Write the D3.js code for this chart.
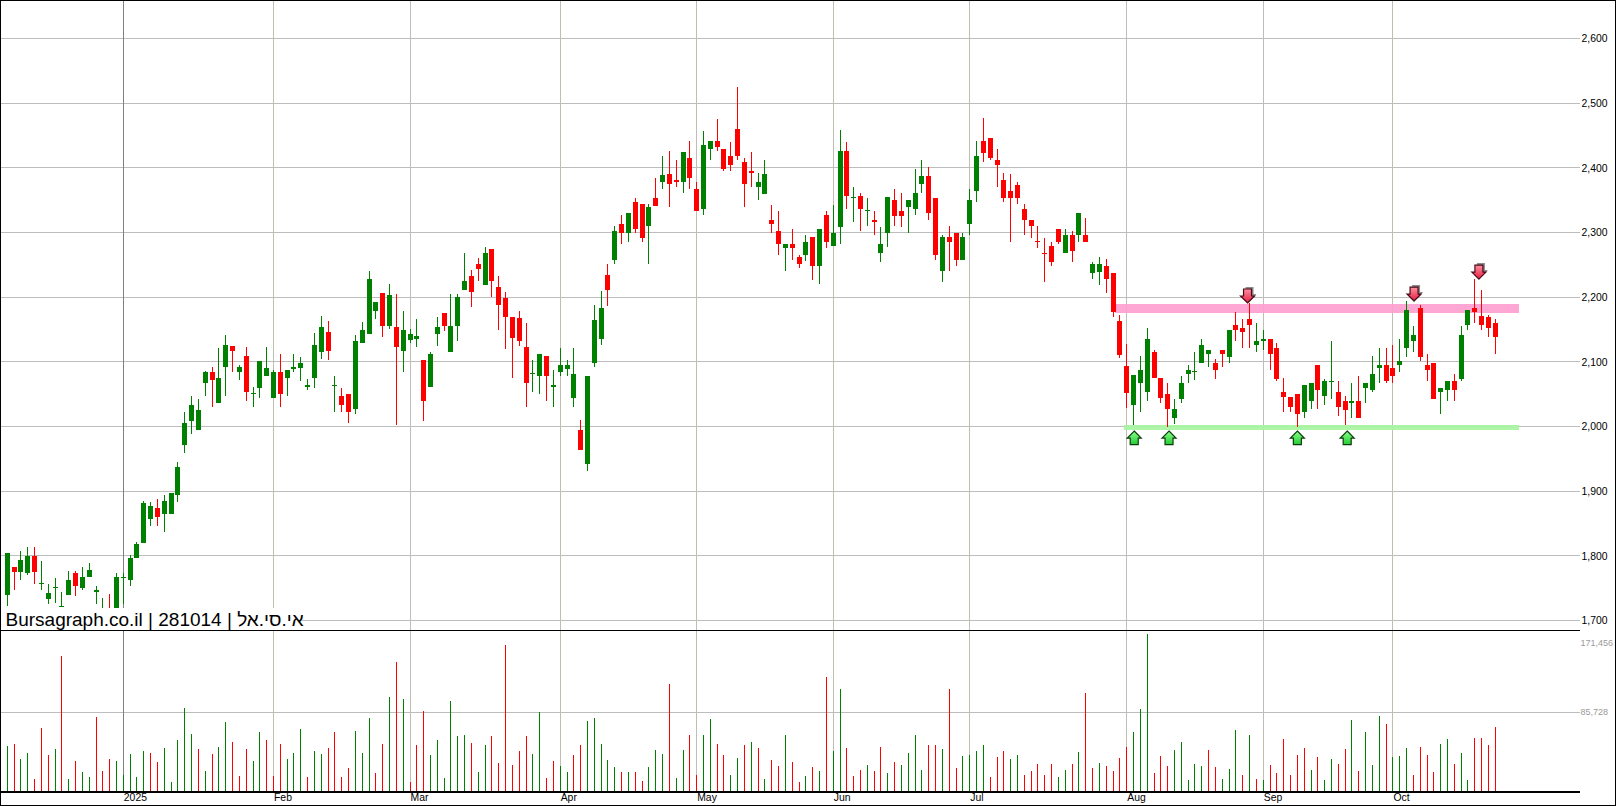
<!DOCTYPE html>
<html>
<head>
<meta charset="utf-8">
<script src="https://d3js.org/d3.v7.min.js"></script>
<style>
  html, body { margin: 0; padding: 0; background: #fff; overflow: hidden; }
  text { font-family: "Liberation Sans", Arial, sans-serif; }
  .crisp { shape-rendering: crispEdges; }
</style>
</head>
<body>
<div id="chart"></div>
<script>
// daily candles
var opens = [
  1738,1782,1775,1772,1799,1756,1733,1750,1721,1739,1773,1750,1767,1743,1706,1716,1712,1765,1762,1796,
  1819,1856,1873,1864,1864,1893,1971,2008,1994,2067,2083,2035,2091,2123,2084,2108,2050,2058,2078,2044,
  2083,2074,2088,2089,2060,2074,2114,2145,2063,2046,2049,2027,2128,2142,2178,2206,2154,2153,2116,2133,
  2134,2102,2060,2142,2175,2114,2154,2210,2232,2251,2218,2274,2215,2198,2168,2167,2122,2081,2078,2109,
  2060,2083,2088,2043,1994,1942,2098,2134,2233,2257,2313,2299,2346,2343,2310,2352,2377,2389,2381,2378,
  2415,2366,2335,2428,2440,2428,2417,2459,2408,2395,2370,2358,2318,2301,2275,2282,2261,2264,2292,2247,
  2327,2278,2307,2426,2353,2355,2333,2319,2268,2299,2349,2332,2338,2335,2374,2386,2353,2240,2292,2299,
  2257,2313,2363,2440,2446,2411,2380,2363,2372,2335,2319,2286,2268,2279,2305,2268,2295,2295,2296,2236,
  2238,2247,2236,2163,2093,2033,2066,2052,2115,2075,2050,2013,2041,2080,2084,2098,2111,2097,2117,2106,
  2156,2152,2165,2125,2131,2135,2120,2052,2045,2049,2021,2039,2094,2047,2069,2052,2039,2035,2038,2059,
  2056,2090,2094,2090,2094,2120,2131,2183,2094,2097,2052,2056,2069,2073,2156,2182,2170,2168,2160
];
var highs = [
  1804,1782,1807,1813,1813,1791,1756,1765,1744,1776,1776,1782,1788,1753,1734,1740,1773,1773,1801,1820,
  1884,1882,1887,1893,1896,1944,2022,2047,2041,2085,2091,2120,2140,2123,2095,2122,2060,2100,2122,2086,
  2112,2086,2112,2106,2072,2144,2170,2162,2077,2058,2050,2140,2161,2240,2192,2206,2220,2204,2178,2150,
  2165,2102,2114,2168,2175,2204,2204,2268,2241,2260,2277,2274,2232,2207,2168,2178,2159,2102,2111,2109,
  2086,2120,2102,2120,2010,2077,2187,2208,2251,2310,2327,2329,2352,2343,2343,2383,2417,2426,2412,2423,
  2440,2378,2456,2440,2474,2429,2439,2524,2415,2423,2391,2412,2341,2333,2282,2304,2264,2295,2292,2305,
  2333,2341,2457,2439,2370,2361,2352,2333,2308,2354,2367,2361,2350,2398,2412,2400,2353,2296,2310,2299,
  2298,2367,2440,2476,2446,2429,2392,2390,2378,2343,2319,2309,2290,2284,2305,2304,2301,2330,2322,2254,
  2262,2259,2236,2171,2127,2079,2108,2151,2118,2075,2067,2042,2077,2095,2114,2135,2117,2104,2117,2148,
  2177,2165,2190,2159,2148,2135,2129,2075,2045,2049,2063,2067,2095,2072,2132,2069,2047,2067,2078,2067,
  2109,2120,2120,2126,2134,2194,2154,2187,2112,2098,2059,2070,2080,2154,2179,2228,2211,2172,2165
];
var lows = [
  1721,1747,1762,1769,1756,1747,1725,1727,1721,1739,1737,1747,1767,1725,1700,1700,1708,1725,1753,1796,
  1819,1845,1845,1836,1864,1882,1959,1987,1994,2046,2029,2035,2047,2084,2071,2039,2029,2043,2078,2044,
  2030,2047,2084,2069,2055,2058,2103,2102,2021,2022,2005,2019,2128,2142,2165,2137,2150,2001,2084,2128,
  2122,2007,2060,2123,2147,2114,2131,2210,2184,2224,2218,2200,2148,2119,2074,2123,2029,2052,2050,2039,
  2030,2077,2078,2030,1963,1931,2091,2126,2186,2251,2281,2284,2298,2284,2250,2340,2366,2338,2369,2361,
  2367,2333,2326,2411,2425,2394,2394,2412,2338,2369,2349,2358,2298,2264,2239,2257,2244,2255,2225,2219,
  2275,2278,2282,2336,2315,2301,2310,2295,2253,2277,2309,2308,2298,2327,2361,2319,2256,2222,2239,2248,
  2257,2296,2347,2409,2411,2370,2346,2284,2344,2295,2290,2276,2223,2248,2282,2268,2253,2285,2284,2228,
  2218,2205,2169,2105,2028,2001,2021,2039,2075,2035,1999,2003,2036,2066,2071,2098,2092,2073,2092,2098,
  2132,2121,2121,2115,2117,2087,2070,2021,2021,1999,2013,2027,2027,2032,2042,2016,2002,2013,2013,2036,
  2052,2067,2066,2067,2084,2106,2114,2101,2069,2042,2019,2038,2038,2069,2148,2159,2148,2138,2112
];
var closes = [
  1804,1775,1793,1799,1775,1757,1742,1751,1722,1762,1753,1767,1777,1747,1716,1705,1767,1766,1796,1817,
  1881,1877,1859,1884,1896,1937,2004,2033,2024,2083,2071,2075,2125,2116,2092,2052,2051,2100,2089,2083,
  2049,2086,2091,2098,2063,2126,2153,2116,2064,2032,2021,2131,2148,2227,2192,2154,2203,2122,2148,2142,
  2139,2038,2111,2153,2154,2154,2200,2224,2207,2243,2268,2224,2187,2168,2136,2131,2067,2082,2111,2078,
  2063,2094,2094,2080,1963,2077,2164,2182,2211,2302,2299,2329,2304,2290,2338,2340,2388,2375,2378,2423,
  2383,2333,2435,2440,2432,2397,2403,2418,2374,2392,2378,2389,2312,2281,2282,2275,2250,2284,2247,2305,
  2285,2298,2425,2355,2354,2335,2334,2315,2282,2354,2324,2324,2350,2361,2386,2330,2264,2292,2285,2257,
  2293,2349,2418,2422,2414,2403,2352,2353,2353,2319,2310,2285,2267,2253,2285,2296,2271,2330,2284,2251,
  2251,2227,2177,2110,2051,2079,2086,2135,2075,2044,2027,2027,2066,2086,2085,2126,2117,2086,2111,2148,
  2148,2145,2156,2131,2135,2111,2073,2045,2030,2019,2063,2066,2055,2070,2070,2030,2025,2039,2013,2067,
  2081,2095,2070,2078,2101,2180,2140,2106,2086,2042,2059,2069,2056,2140,2179,2176,2156,2151,2138
];

// volume in thousands, 1 = green bar, 0 = red bar
var volumes = [
  49.1,51.3,35.2,41.6,12.6,68.5,39.5,45.9,146.0,12.6,33.0,20.1,14.7,80.3,21.2,35.2,33.0,16.9,40.5,14.7,
  43.8,41.6,31.9,47.0,9.3,55.6,90.0,62.1,45.9,22.2,40.5,48.1,75.0,53.4,15.8,45.9,33.0,64.2,55.6,15.8,
  51.3,35.2,41.6,67.4,14.7,43.8,40.5,47.0,64.2,14.7,25.5,65.3,41.6,79.3,19.0,51.3,101.9,139.5,99.7,9.3,
  50.2,86.8,39.5,55.6,13.6,97.6,59.9,61.0,52.4,20.1,50.2,59.9,30.8,158.9,28.7,43.8,59.9,40.5,85.7,13.6,
  33.0,27.6,20.1,39.5,50.2,76.0,79.3,51.3,34.1,26.5,20.1,20.1,20.1,10.4,26.5,44.8,40.5,115.9,13.6,44.8,
  61.0,16.9,61.0,78.2,51.3,39.5,17.9,36.2,50.2,53.4,47.0,12.6,34.1,27.6,61.0,31.9,9.3,15.8,26.5,22.2,
  123.4,43.8,110.5,47.0,15.8,23.3,28.7,22.2,48.1,19.0,31.9,28.7,41.6,61.0,23.3,50.2,50.2,45.9,110.5,25.5,
  38.4,39.5,43.8,50.2,14.7,37.3,43.8,35.2,39.5,17.9,22.2,29.8,16.9,29.8,14.7,23.3,29.8,42.7,106.2,25.5,
  30.8,27.6,22.2,36.2,48.1,64.2,89.0,170.7,19.0,38.4,27.6,44.8,53.4,11.5,29.8,27.6,44.8,26.5,12.6,24.4,
  66.4,16.9,61.0,12.6,11.5,28.7,19.0,56.7,17.9,39.5,47.0,23.3,37.3,11.5,35.2,29.8,45.9,77.1,22.2,64.2,
  28.7,81.4,72.8,37.3,38.4,47.0,16.9,48.1,39.5,20.1,51.3,56.7,29.8,41.6,11.5,57.8,57.8,50.2,69.6
];
var volumeUp = [
  1,0,1,1,0,0,0,1,0,1,0,1,1,0,0,0,1,1,1,1,
  1,0,0,1,1,1,1,1,0,1,0,1,1,0,0,0,1,1,0,0,
  0,1,1,1,0,1,1,0,0,0,0,1,1,1,0,0,1,0,1,0,
  0,0,1,1,1,1,1,1,0,1,1,0,0,0,0,0,0,1,1,0,
  0,1,1,0,0,1,1,1,1,1,0,1,0,0,1,1,1,0,1,1,
  0,0,1,1,0,0,1,1,0,1,0,1,0,0,1,0,0,1,0,1,
  0,1,1,0,0,0,1,0,0,1,0,1,1,1,1,0,0,1,0,0,
  1,1,1,1,0,0,0,1,1,0,0,0,0,0,1,1,0,1,0,0,
  1,0,0,0,0,1,1,1,0,0,0,1,1,1,1,1,0,0,1,1,
  1,0,1,0,1,0,0,0,0,0,0,1,0,1,1,0,0,1,0,1,
  1,1,0,1,1,1,0,0,0,0,1,1,0,1,1,0,0,0,0
];

var priceTicks = [1700, 1800, 1900, 2000, 2100, 2200, 2300, 2400, 2500, 2600];
var volumeTicks = [85728, 171456];
var monthIndex = [17, 39, 59, 81, 101, 121, 141, 164, 184, 203];
var monthLabels = ["2025", "Feb", "Mar", "Apr", "May", "Jun", "Jul", "Aug", "Sep", "Oct"];

// support and resistance bands: price range and candle range
var bandPrices = [[2176, 2189], [1994, 2003]];
var bandFrom = [162.3, 163.6];
var bandTo = [221.4, 221.4];
var bandColors = ["#ff9fd0", "#a6f5a0"];

// signal arrows: candle position and price of the tip
var upArrowIndex = [165.1, 170.2, 189, 196.3];
var upArrowPrice = [1993, 1993, 1993, 1993];
var downArrowIndex = [181.7, 206.1, 215.6];
var downArrowPrice = [2191, 2194, 2228];

var title = "Bursagraph.co.il | 281014 | אי.סי.אל";

var width = 1616, height = 806;
var plotRight = 1580, splitY = 630, volumeBase = 791;

var svg = d3.select("#chart").append("svg")
  .attr("width", width)
  .attr("height", height)
  .style("display", "block");

var x = d3.scaleLinear().domain([0, opens.length - 1]).range([7.3, 1495.3]);
var y = d3.scaleLinear().domain([1700, 2600]).range([620.5, 38.5]);
var yVol = d3.scaleLinear().domain([0, 85728]).range([volumeBase, 712]);

function px(i) { return Math.floor(x(i)); }
function py(v) { return Math.floor(y(v)); }

var defs = svg.append("defs");
var upGrad = defs.append("linearGradient").attr("id", "upFill").attr("x1", 0).attr("y1", 0).attr("x2", 0).attr("y2", 1);
upGrad.append("stop").attr("offset", "0%").attr("stop-color", "#8dff8d");
upGrad.append("stop").attr("offset", "100%").attr("stop-color", "#22cc33");
var downGrad = defs.append("linearGradient").attr("id", "downFill").attr("x1", 0).attr("y1", 0).attr("x2", 0).attr("y2", 1);
downGrad.append("stop").attr("offset", "0%").attr("stop-color", "#ff8fa0");
downGrad.append("stop").attr("offset", "100%").attr("stop-color", "#e81c40");

// grid
var grid = svg.append("g").attr("class", "crisp");
grid.selectAll(".hgrid").data(priceTicks).enter().append("rect")
  .attr("x", 1).attr("width", plotRight - 1)
  .attr("y", function(d) { return py(d); })
  .attr("height", 1).attr("fill", "#bdbdbd");
grid.append("rect")
  .attr("x", 1).attr("width", plotRight - 1)
  .attr("y", Math.floor(yVol(volumeTicks[0]))).attr("height", 1).attr("fill", "#bdbdbd");
grid.selectAll(".vgrid").data(monthIndex).enter().append("rect")
  .attr("x", function(d) { return px(d); })
  .attr("width", 1).attr("y", 1).attr("height", volumeBase - 1)
  .attr("fill", function(d, i) { return i === 0 ? "#808080" : "#c0bdb5"; });

// bands
svg.append("g").attr("class", "crisp").selectAll("rect").data(bandPrices).enter().append("rect")
  .attr("x", function(d, i) { return x(bandFrom[i]); })
  .attr("width", function(d, i) { return x(bandTo[i]) - x(bandFrom[i]); })
  .attr("y", function(d) { return y(d[1]); })
  .attr("height", function(d) { return y(d[0]) - y(d[1]); })
  .attr("fill", function(d, i) { return bandColors[i]; })
  .attr("fill-opacity", 0.92);

// volume bars
svg.append("g").attr("class", "crisp").selectAll("rect").data(volumes).enter().append("rect")
  .attr("x", function(d, i) { return px(i); })
  .attr("width", 1)
  .attr("y", function(d) { return Math.round(yVol(d * 1000)); })
  .attr("height", function(d) { return volumeBase - Math.round(yVol(d * 1000)); })
  .attr("fill", function(d, i) { return volumeUp[i] ? "#008000" : "#ff0000"; });

// candles
var candle = svg.append("g").attr("class", "crisp").selectAll("g").data(opens).enter().append("g")
  .attr("fill", function(d, i) { return closes[i] >= d ? "#008000" : "#ff0000"; });

candle.append("rect")
  .attr("x", function(d, i) { return px(i); })
  .attr("width", 1)
  .attr("y", function(d, i) { return py(highs[i]); })
  .attr("height", function(d, i) { return Math.max(1, py(lows[i]) - py(highs[i])); });

candle.append("rect")
  .attr("x", function(d, i) { return px(i) - 2; })
  .attr("width", 5)
  .attr("y", function(d, i) { return py(Math.max(d, closes[i])); })
  .attr("height", function(d, i) { return Math.max(1, py(Math.min(d, closes[i])) - py(Math.max(d, closes[i]))); });

// the caption sits on a white box over the lower left of the plot
svg.append("rect").attr("class", "crisp")
  .attr("x", 1).attr("y", 608).attr("width", 301).attr("height", 22).attr("fill", "#fff");
svg.append("text")
  .attr("x", 5.5).attr("y", 626)
  .attr("font-size", 19)
  .attr("fill", "#000")
  .text(title);

// arrows
var upShape = "M0,0 L7,7 L4,7 L4,13.5 L-4,13.5 L-4,7 L-7,7 Z";
var downShape = "M0,0 L7,-7 L4,-7 L4,-14 L-4,-14 L-4,-7 L-7,-7 Z";

svg.append("g").selectAll("path").data(upArrowIndex).enter().append("path")
  .attr("d", upShape)
  .attr("transform", function(d, i) { return "translate(" + x(d) + "," + y(upArrowPrice[i]) + ")"; })
  .attr("fill", "url(#upFill)")
  .attr("stroke", "#0b3d0b")
  .attr("stroke-width", 1.2);

var downArrows = svg.append("g").selectAll("g").data(downArrowIndex).enter().append("g")
  .attr("transform", function(d, i) { return "translate(" + x(d) + "," + y(downArrowPrice[i]) + ")"; });
downArrows.append("path")
  .attr("d", downShape)
  .attr("transform", "translate(2,-2)")
  .attr("fill", "#8c8c8c");
downArrows.append("path")
  .attr("d", downShape)
  .attr("fill", "url(#downFill)")
  .attr("stroke", "#4a0a18")
  .attr("stroke-width", 1.2);

// axes
var priceAxis = svg.append("g")
  .attr("transform", "translate(" + plotRight + ",0)")
  .call(d3.axisRight(y).tickValues(priceTicks).tickSize(0).tickPadding(1.5).tickFormat(d3.format(",")));
priceAxis.select(".domain").remove();
priceAxis.selectAll("text").attr("font-size", 10.4).attr("fill", "#000").style("font-family", '"Liberation Sans", Arial, sans-serif');

var volumeAxis = svg.append("g")
  .attr("transform", "translate(" + plotRight + ",0)")
  .call(d3.axisRight(d3.scaleLinear().domain([0, 85728, 171456]).range([volumeBase, 712, 643]))
    .tickValues(volumeTicks).tickSize(0).tickPadding(0.5).tickFormat(d3.format(",")));
volumeAxis.select(".domain").remove();
volumeAxis.selectAll("text").attr("font-size", 9).attr("fill", "#9a9a9a").style("font-family", '"Liberation Sans", Arial, sans-serif');

var monthAxis = svg.append("g")
  .attr("transform", "translate(0," + volumeBase + ")")
  .call(d3.axisBottom(x).tickValues(monthIndex).tickSize(0).tickPadding(3)
    .tickFormat(function(d, i) { return monthLabels[i]; }));
monthAxis.select(".domain").remove();
monthAxis.selectAll("text").attr("font-size", 10.4).attr("fill", "#000")
  .attr("text-anchor", "start")
  .style("font-family", '"Liberation Sans", Arial, sans-serif');

// frame and panel rules
var rules = svg.append("g").attr("class", "crisp").attr("fill", "#000");
rules.append("rect").attr("x", 0).attr("y", 0).attr("width", width).attr("height", 1);
rules.append("rect").attr("x", 0).attr("y", 0).attr("width", 1).attr("height", height);
rules.append("rect").attr("x", width - 1).attr("y", 0).attr("width", 1).attr("height", height);
rules.append("rect").attr("x", 0).attr("y", height - 1).attr("width", width).attr("height", 1);
rules.append("rect").attr("x", 0).attr("y", splitY).attr("width", plotRight).attr("height", 1);
rules.append("rect").attr("x", 0).attr("y", volumeBase).attr("width", plotRight).attr("height", 2);
</script>
</body>
</html>
